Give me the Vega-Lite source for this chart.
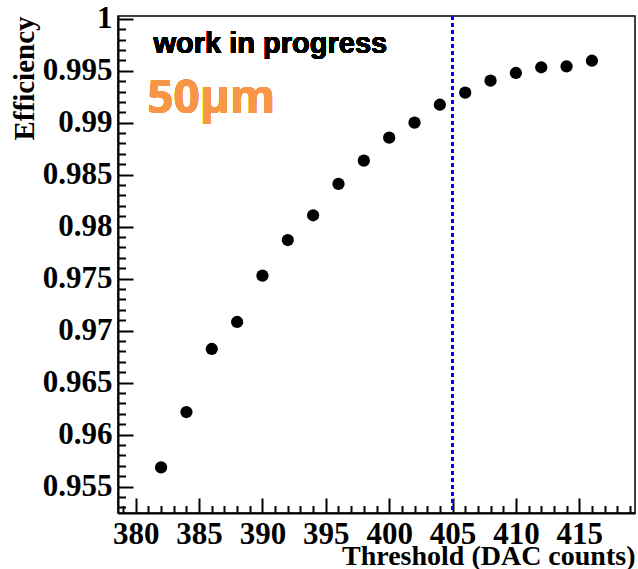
{
  "$schema": "https://vega.github.io/schema/vega-lite/v6.json",
  "width": 517,
  "height": 497,
  "autosize": "none",
  "padding": {"left": 118, "top": 16, "right": 3, "bottom": 56},
  "background": "white",
  "config": {
    "view": {"stroke": "black", "strokeWidth": 1.5},
    "axis": {"grid": false}
  },
  "data": {
    "values": [
      {"threshold": 382, "efficiency": 0.95685},
      {"threshold": 384, "efficiency": 0.96218},
      {"threshold": 386, "efficiency": 0.96824},
      {"threshold": 388, "efficiency": 0.97084},
      {"threshold": 390, "efficiency": 0.97529},
      {"threshold": 392, "efficiency": 0.97872},
      {"threshold": 394, "efficiency": 0.98110},
      {"threshold": 396, "efficiency": 0.98411},
      {"threshold": 398, "efficiency": 0.98635},
      {"threshold": 400, "efficiency": 0.98856},
      {"threshold": 402, "efficiency": 0.99000},
      {"threshold": 404, "efficiency": 0.99173},
      {"threshold": 406, "efficiency": 0.99289},
      {"threshold": 408, "efficiency": 0.99404},
      {"threshold": 410, "efficiency": 0.99478},
      {"threshold": 412, "efficiency": 0.99533},
      {"threshold": 414, "efficiency": 0.99542},
      {"threshold": 416, "efficiency": 0.99596}
    ]
  },
  "resolve": {"axis": {"x": "independent", "y": "independent"}},
  "layer": [
    {
      "mark": {"type": "point", "opacity": 0},
      "encoding": {
        "x": {
          "field": "threshold", "type": "quantitative",
          "scale": {"domain": [378.6, 419.4], "nice": false, "zero": false},
          "axis": {
            "orient": "bottom", "title": null, "labels": false, "domain": false,
            "values": [379,381,382,383,384,386,387,388,389,391,392,393,394,396,397,398,399,401,402,403,404,406,407,408,409,411,412,413,414,416,417,418,419],
            "tickSize": -7.5, "tickWidth": 2, "tickColor": "black"
          }
        },
        "y": {
          "field": "efficiency", "type": "quantitative",
          "scale": {"domain": [0.95247, 1.00026], "nice": false, "zero": false},
          "axis": {
            "orient": "left", "title": null, "labels": false, "domain": false,
            "values": [0.953,0.954,0.956,0.957,0.958,0.959,0.961,0.962,0.963,0.964,0.966,0.967,0.968,0.969,0.971,0.972,0.973,0.974,0.976,0.977,0.978,0.979,0.981,0.982,0.983,0.984,0.986,0.987,0.988,0.989,0.991,0.992,0.993,0.994,0.996,0.997,0.998,0.999],
            "tickSize": -7.5, "tickWidth": 2, "tickColor": "black"
          }
        }
      }
    },
    {
      "mark": {"type": "rule", "color": "#0000ff", "strokeWidth": 2, "strokeDash": [4, 3]},
      "encoding": {
        "x": {"datum": 405, "type": "quantitative", "axis": null}
      }
    },
    {
      "mark": {"type": "circle", "color": "black", "opacity": 1, "size": 150},
      "encoding": {
        "x": {
          "field": "threshold", "type": "quantitative",
          "axis": {
            "orient": "bottom",
            "title": "Threshold (DAC counts)",
            "values": [380, 385, 390, 395, 400, 405, 410, 415],
            "tickSize": -15, "tickWidth": 2, "tickColor": "black",
            "domainColor": "black", "domainWidth": 2,
            "labelFont": "Liberation Serif", "labelFontWeight": "bold", "labelFontSize": 31, "labelColor": "black",
            "labelPadding": 21, "labelFlush": false,
            "titleFont": "Liberation Serif", "titleFontWeight": "bold", "titleFontSize": 28, "titleColor": "black",
            "titleAnchor": "end", "titleAlign": "right", "titleBaseline": "alphabetic", "titlePadding": 15
          }
        },
        "y": {
          "field": "efficiency", "type": "quantitative",
          "axis": {
            "orient": "left",
            "title": "Efficiency",
            "values": [0.955, 0.96, 0.965, 0.97, 0.975, 0.98, 0.985, 0.99, 0.995, 1],
            "format": "~g",
            "tickSize": -15, "tickWidth": 2, "tickColor": "black",
            "domainColor": "black", "domainWidth": 2,
            "labelFont": "Liberation Serif", "labelFontWeight": "bold", "labelFontSize": 31, "labelColor": "black",
            "labelPadding": 21, "labelFlush": false,
            "titleFont": "Liberation Serif", "titleFontWeight": "bold", "titleFontSize": 29, "titleColor": "black",
            "titleAnchor": "end", "titlePadding": 3
          }
        }
      }
    },
    {
      "mark": {"type": "text", "text": "work in progress", "font": "Liberation Sans", "fontWeight": "bold", "fontSize": 29, "color": "black", "align": "left", "baseline": "alphabetic"},
      "encoding": {
        "x": {"datum": 381.4, "type": "quantitative", "axis": null},
        "y": {"datum": 0.9967, "type": "quantitative", "axis": null}
      }
    },
    {
      "mark": {"type": "text", "text": "50µm", "font": "Open Sans", "fontWeight": "bold", "fontSize": 46, "color": "#F79646", "align": "left", "baseline": "alphabetic"},
      "encoding": {
        "x": {"datum": 380.9, "type": "quantitative", "axis": null},
        "y": {"datum": 0.99093, "type": "quantitative", "axis": null}
      }
    }
  ]
}
